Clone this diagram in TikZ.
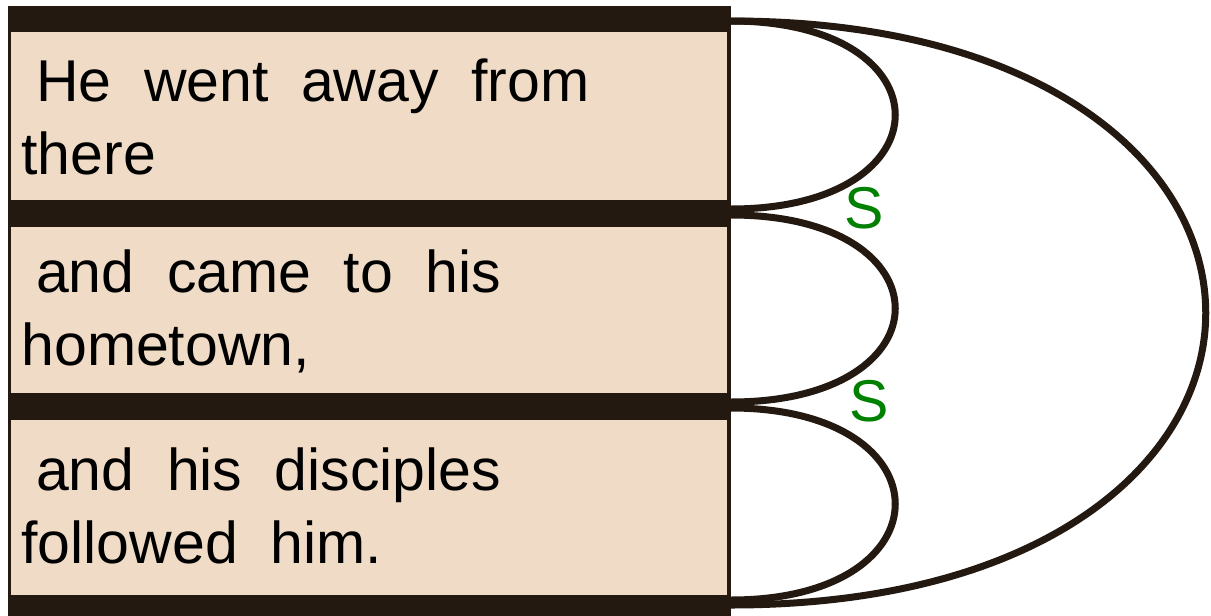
\documentclass[tikz,border=0pt]{standalone}
\usepackage{fontspec}
\setmainfont{Liberation Sans}
\usetikzlibrary{positioning}
\definecolor{barbrown}{RGB}{35,25,17}
\definecolor{clausetan}{RGB}{239,219,198}
\definecolor{relgreen}{RGB}{0,128,0}
\newcommand{\clausefont}{\fontsize{29.5pt}{36.5pt}\selectfont}
\tikzset{
  clausebox/.style={fill=clausetan, draw=none, minimum width=358pt, inner sep=0pt, anchor=north west},
  clausetext/.style={anchor=base west, inner sep=0pt, text width=340pt, align=left, font=\clausefont,
    execute at begin node={\spaceskip=0.55em\relax}},
  relarc/.style={draw=barbrown, line width=3.5pt},
  rellabel/.style={text=relgreen, font=\clausefont, inner sep=0pt}
}

\begin{document}
\begin{tikzpicture}[x=0.5pt, y=-0.5pt]
  \useasboundingbox (0,0) rectangle (1211,616);
  % dark frame with the bars
  \fill[barbrown] (8,6) rectangle (731,616);
  \node[clausebox, minimum height=84pt] (box1) at (11,32) {};
  \node[clausebox, minimum height=83pt] (box2) at (11,227) {};
  \node[clausebox, minimum height=87.5pt] (box3) at (11,420) {};
  \node[clausetext] (txt1) at (21,101.5) {\hspace*{0.25em}He went away from\\there};
  \node[clausetext] (txt2) at (21,292) {\hspace*{0.25em}and came to his\\hometown,};
  \node[clausetext] (txt3) at (21,490) {\hspace*{0.25em}and his disciples\\followed him.};
  % arc ends on the bars
  \coordinate (j0) at (731,21);
  \coordinate (j1a) at (731,209); \coordinate (j1b) at (731,215);
  \coordinate (j2a) at (731,402); \coordinate (j2b) at (731,408);
  \coordinate (j3a) at (731,600); \coordinate (j3b) at (731,605);
  \draw[relarc] (j0) .. controls +(219,0) and +(219,0) .. (j1a);
  \draw[relarc] (j1b) .. controls +(219,0) and +(219,0) .. (j2a);
  \draw[relarc] (j2b) .. controls +(219,0) and +(219,0) .. (j3a);
  \draw[relarc] (j0) .. controls +(633,0) and +(633,0) .. (j3b);
  \node[rellabel] (s1) at (864,208) {S};
  \node[rellabel] (s2) at (869,401) {S};
\end{tikzpicture}
\end{document}
